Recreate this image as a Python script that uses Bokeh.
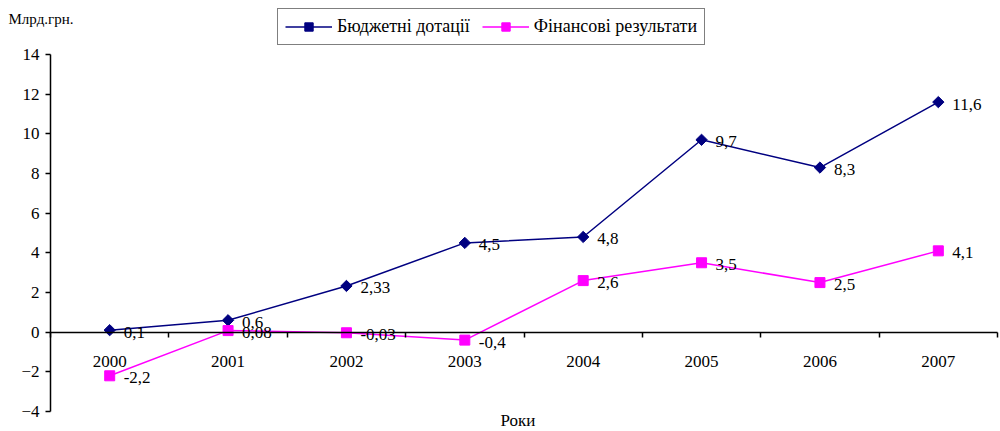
import math
from bokeh.plotting import figure
from bokeh.models import (Range1d, LinearAxis, FixedTicker, Legend, LegendItem,
                          Label, ColumnDataSource)
from bokeh.core.properties import value
from bokeh.embed import file_html
from bokeh.resources import INLINE

# ---- data ----
years = ["2000", "2001", "2002", "2003", "2004", "2005", "2006", "2007"]
subsidies = [0.1, 0.6, 2.33, 4.5, 4.8, 9.7, 8.3, 11.6]
fin_results = [-2.2, 0.08, -0.03, -0.4, 2.6, 3.5, 2.5, 4.1]
y_ticks = [-4, -2, 0, 2, 4, 6, 8, 10, 12, 14]
series_names = ["Бюджетні дотації", "Фінансові результати"]
y_unit = "Млрд.грн."
x_title = "Роки"

FONT = "Liberation Serif"
FS = "17px"
NAVY = "#000080"
MAGENTA = "#FF00FF"

W, H = 1000, 431
# plot area in pixels (left, right, top, bottom)
PL, PR, PT, PB = 50, 997, 54, 411

n = len(years)
xs = [i + 0.5 for i in range(n)]
bounds = list(range(n + 1))
ymin, ymax = y_ticks[0], y_ticks[-1]

# extend the ranges so that the frame covers the whole canvas
kx = n / (PR - PL)
ky = (ymax - ymin) / (PB - PT)
x_range = Range1d(0 - PL * kx, n + (W - PR) * kx)
y_range = Range1d(ymin - (H - PB) * ky, ymax + PT * ky)


def fmt(v):
    return f"{v:g}".replace(".", ",")


p = figure(width=W, height=H, x_range=x_range, y_range=y_range,
           output_backend="svg", toolbar_location=None,
           x_axis_location=None, y_axis_location=None, min_border=0)
p.outline_line_color = None
p.background_fill_color = "white"
p.border_fill_color = "white"
p.grid.visible = False

yaxis = LinearAxis(fixed_location=0, bounds=(ymin, ymax),
                   ticker=FixedTicker(ticks=y_ticks, minor_ticks=[]))
yaxis.major_tick_out = 5
yaxis.major_tick_in = 0
yaxis.minor_tick_line_color = None
yaxis.axis_line_color = "black"
yaxis.axis_line_width = 1.5
yaxis.major_tick_line_color = "black"
yaxis.major_tick_line_width = 1.5
yaxis.major_label_text_font = FONT
yaxis.major_label_text_font_size = FS
yaxis.major_label_text_color = "black"
yaxis.major_label_standoff = 6
p.add_layout(yaxis, "left")

xaxis = LinearAxis(fixed_location=0, bounds=(0, n),
                   ticker=FixedTicker(ticks=xs, minor_ticks=bounds),
                   major_label_overrides={x: y for x, y in zip(xs, years)})
xaxis.major_tick_out = 0
xaxis.major_tick_in = 0
xaxis.major_tick_line_color = None
xaxis.minor_tick_out = 5
xaxis.minor_tick_in = 0
xaxis.minor_tick_line_color = "black"
xaxis.minor_tick_line_width = 1.5
xaxis.axis_line_color = "black"
xaxis.axis_line_width = 1.5
xaxis.major_label_text_font = FONT
xaxis.major_label_text_font_size = FS
xaxis.major_label_text_color = "black"
xaxis.major_label_standoff = 19
p.add_layout(xaxis, "below")

src1 = ColumnDataSource(dict(x=xs, y=subsidies, t=[fmt(v) for v in subsidies]))
src2 = ColumnDataSource(dict(x=xs, y=fin_results, t=[fmt(v) for v in fin_results]))

l1 = p.line("x", "y", source=src1, color=NAVY, line_width=1.5)
m1 = p.scatter("x", "y", source=src1, marker="square", angle=math.pi / 4,
               size=8, color=NAVY)
l2 = p.line("x", "y", source=src2, color=MAGENTA, line_width=1.5)
m2 = p.scatter("x", "y", source=src2, marker="square", size=10, color=MAGENTA)

for src in (src1, src2):
    p.text("x", "y", text="t", source=src, x_offset=14, y_offset=2,
           text_baseline="middle", text_align="left",
           text_font=value(FONT), text_font_size=FS, text_color="black")

legend = Legend(items=[LegendItem(label=series_names[0], renderers=[l1, m1]),
                       LegendItem(label=series_names[1], renderers=[l2, m2])],
                orientation="horizontal", location=(277, H - 45),
                border_line_color="black", border_line_width=1.5,
                label_text_font=FONT, label_text_font_size="18px",
                label_text_color="black",
                glyph_width=47, glyph_height=21, label_standoff=5,
                spacing=12, padding=7, margin=0,
                background_fill_color="white", background_fill_alpha=1)
p.add_layout(legend, "center")

p.add_layout(Label(x=8, y=H - 18, x_units="screen", y_units="screen",
                   text=y_unit, text_baseline="middle",
                   text_align="left", text_font=FONT, text_font_size="15px",
                   text_color="black"))
p.add_layout(Label(x=500, y=H - 420, x_units="screen", y_units="screen",
                   text=x_title, text_baseline="middle",
                   text_align="left", text_font=FONT, text_font_size=FS,
                   text_color="black"))

open("out.html", "w").write(file_html(p, INLINE))
